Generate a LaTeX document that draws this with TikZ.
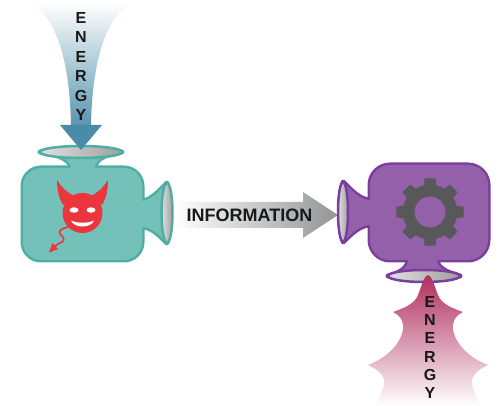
\documentclass[tikz,border=0pt]{standalone}
\usepackage{fontspec}
\setmainfont{Liberation Sans}
\definecolor{tealfill}{RGB}{116,193,185}
\definecolor{tealline}{RGB}{78,174,162}
\definecolor{purpfill}{RGB}{148,96,170}
\definecolor{purpline}{RGB}{122,62,158}
\definecolor{devilred}{RGB}{234,54,60}
\definecolor{geargray}{RGB}{88,88,90}
\definecolor{energyblue}{RGB}{74,139,168}
\definecolor{energyrose}{RGB}{176,46,92}
\definecolor{infogray}{RGB}{146,148,150}
\definecolor{textdark}{RGB}{25,25,25}

% outlines of the two cameras
\newcommand{\tealbody}{[rounded corners=18pt] (23,168) rectangle (142,260)}
\newcommand{\tealtop}{(71,176) -- (71,168) .. controls (71,160) and (58,154) .. (40,152) -- (122,152) .. controls (104,154) and (95,160) .. (95,168) -- (95,176) -- cycle}
\newcommand{\tealside}{(134,201) -- (142,201) .. controls (152,200) and (160,190) .. (167,183) -- (167,243) .. controls (160,236) and (152,227) .. (142,227) -- (134,227) -- cycle}
\newcommand{\purpbody}{[rounded corners=20pt] (370,165) rectangle (488,260)}
\newcommand{\purpside}{(378,225) -- (370,225) .. controls (360,225) and (351,234) .. (343,242) -- (343,182) .. controls (351,190) and (360,200) .. (370,200) -- (378,200) -- cycle}
\newcommand{\purpbottom}{(408,252) -- (408,260) .. controls (408,268) and (400,273) .. (388,276) -- (460,276) .. controls (448,273) and (437,268) .. (437,260) -- (437,252) -- cycle}

\begin{document}
\begin{tikzpicture}[x=1pt,y=-1pt,
  letters/.style={font=\bfseries\fontsize{16}{19.4}\selectfont, text=textdark, align=center, inner sep=0pt},
  lens/.style={left color=gray!25, right color=gray!75, line width=2.5pt},
  outline/.style={line width=5pt, line join=round}]
\useasboundingbox (0,0) rectangle (499,406);

% incoming energy funnel and arrowhead
\shade[top color=white, bottom color=energyblue!92]
  (26,3) .. controls (55,10) and (70,60) .. (71,126) -- (91,126) .. controls (92,60) and (107,10) .. (136,3) -- cycle;
\node[letters] (energyin) at (81,66.5) {E\\N\\E\\R\\G\\Y};

% left (teal) camera
\draw[outline, tealline] \tealbody;
\draw[outline, tealline] \tealtop;
\draw[outline, tealline] \tealside;
\fill[tealfill] \tealbody;
\fill[tealfill] \tealtop;
\fill[tealfill] \tealside;
\shade[lens, draw=tealline] (81,152) ellipse[x radius=41, y radius=6];
\shade[lens, draw=tealline] (167,213) ellipse[x radius=5.5, y radius=30];
\fill[energyblue] (60,125) -- (102,125) -- (81,150) -- cycle;

% devil
\fill[devilred] (63,205) .. controls (58,196) and (57,188) .. (57,180) .. controls (62,188) and (68,193) .. (74,196) -- cycle;
\fill[devilred] (102,205) .. controls (107,196) and (108,188) .. (108,180) .. controls (103,188) and (97,193) .. (91,196) -- cycle;
\fill[devilred] (82.5,213) circle[radius=20];
\fill[white] (74,210) ellipse[x radius=4.5, y radius=2.7];
\fill[white] (91,210) ellipse[x radius=4.5, y radius=2.7];
\fill[white] (71,220.5) .. controls (77,223.5) and (88,223.5) .. (94,220.5) .. controls (91,228.5) and (74,228.5) .. (71,220.5) -- cycle;
\draw[devilred, line width=1.6pt, line cap=round] (68,227) .. controls (61,229) and (57,231) .. (61,235) .. controls (65,239) and (65,241) .. (59,243.5) .. controls (57,244.5) and (56,245.5) .. (55,246.5);
\fill[devilred] (49,252.5) -- (58,249) -- (52.5,243) -- cycle;

% information arrow
\shade[left color=white, right color=infogray]
  (175,202) -- (303,202) -- (303,192) -- (338,215) -- (303,238) -- (303,228) -- (175,228) -- cycle;
\node[font=\bfseries\fontsize{18}{20}\selectfont, text=textdark, inner sep=0pt] (info) at (249.5,215) {INFORMATION};

% right (purple) camera
\draw[outline, purpline] \purpbody;
\draw[outline, purpline] \purpside;
\draw[outline, purpline] \purpbottom;
\fill[purpfill] \purpbody;
\fill[purpfill] \purpside;
\fill[purpfill] \purpbottom;
\shade[lens, draw=purpline] (343,212) ellipse[x radius=5, y radius=30];
\shade[lens, draw=purpline] (424,276) ellipse[x radius=36, y radius=6];

% gear
\begin{scope}[shift={(430,212)}]
  \fill[geargray, even odd rule] (0,0) circle[radius=15.5]
    (-14:27) \foreach \a in {0,45,...,315} { -- (\a-14:27) -- (\a-9:34) -- (\a+9:34) -- (\a+14:27) -- (\a+22.5:27.4) } -- cycle;
\end{scope}

% outgoing energy burst
\shade[top color=energyrose, bottom color=white]
  (428,275) .. controls (434,277) and (436,295) .. (441,300)
  .. controls (446,306) and (455,309) .. (463,312)
  .. controls (455,316) and (452,322) .. (453,330)
  .. controls (456,345) and (470,358) .. (488,365)
  .. controls (476,370) and (470,378) .. (472,385)
  .. controls (474,392) and (478,398) .. (480,406)
  -- (376,406)
  .. controls (378,398) and (382,392) .. (384,385)
  .. controls (386,378) and (380,370) .. (368,365)
  .. controls (386,358) and (400,345) .. (403,330)
  .. controls (404,322) and (401,316) .. (393,312)
  .. controls (401,309) and (410,306) .. (415,300)
  .. controls (420,295) and (422,277) .. (428,275) -- cycle;
\node[letters, font=\bfseries\fontsize{16}{18.2}\selectfont] (energyout) at (430,347.5) {E\\N\\E\\R\\G\\Y};
\end{tikzpicture}
\end{document}
